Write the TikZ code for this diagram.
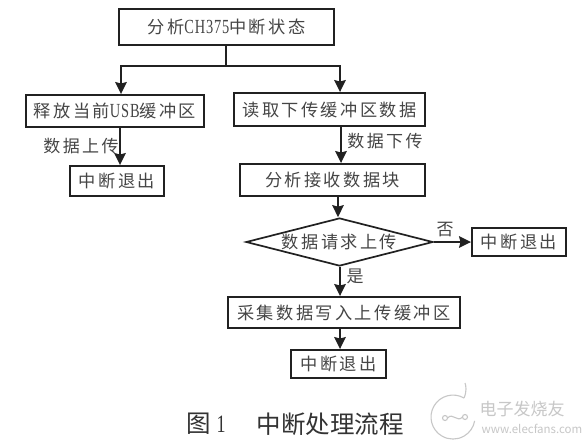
\documentclass[tikz,border=0pt]{standalone}
\usepackage{fontspec}
\usetikzlibrary{arrows.meta,shapes.geometric}
\setmainfont{Noto Sans CJK SC}
\newfontfamily\cjk{Noto Sans CJK SC}
\newfontfamily\cjkwide[LetterSpace=14]{Noto Sans CJK SC}
\newfontfamily\latn[FakeStretch=0.72,LetterSpace=4]{Liberation Serif}
\definecolor{ink}{gray}{0.13}
\definecolor{txt}{gray}{0.27}
\definecolor{wmgray}{gray}{0.78}
\tikzset{
  flowbox/.style={draw=ink,line width=1.9pt,fill=white,inner sep=0pt,text=txt,font=\fontsize{17.2}{19}\selectfont\cjkwide},
  decision/.style={diamond,aspect=3.9,draw=ink,line width=1.7pt,fill=white,inner sep=0pt,text=txt,font=\fontsize{17.2}{19}\selectfont\cjkwide},
  flowlabel/.style={inner sep=0pt,text=txt,font=\fontsize{17}{19}\selectfont\cjkwide},
  link/.style={draw=ink,line width=1.8pt},
  arrowlink/.style={link,-{Stealth[length=12pt,width=11.5pt,inset=1.5pt]}},
  captiontext/.style={inner sep=0pt,text=black!80,font=\fontsize{24.5}{26}\selectfont\cjk},
  marktext/.style={inner sep=0pt,text=wmgray},
  wmline/.style={draw=wmgray,line width=1.1pt}
}
\begin{document}
\begin{tikzpicture}[x=1pt,y=-1pt]
\useasboundingbox (0,0) rectangle (585,445);
\fill[white] (0,0) rectangle (585,445);
\node[flowbox,minimum width=215pt,minimum height=36pt] (top) at (226.5,27) {分析{\latn\fontsize{20}{19}\selectfont CH375}中断状态};
\node[flowbox,minimum width=178pt,minimum height=32pt] (rel) at (115,111) {释放当前{\latn\fontsize{20}{19}\selectfont USB}缓冲区};
\node[flowbox,minimum width=94pt,minimum height=30pt] (exa) at (117,181) {中断退出};
\node[flowbox,minimum width=191pt,minimum height=33pt] (read) at (329.5,109.5) {读取下传缓冲区数据};
\node[flowbox,minimum width=185pt,minimum height=32pt] (ana) at (332.5,180) {分析接收数据块};
\node[decision,minimum width=187pt,minimum height=48pt] (dec) at (339.5,242) {数据请求上传};
\node[flowbox,minimum width=94pt,minimum height=28pt] (exb) at (519,242) {中断退出};
\node[flowbox,minimum width=232pt,minimum height=31pt] (col) at (344,312.5) {采集数据写入上传缓冲区};
\node[flowbox,minimum width=95pt,minimum height=28pt] (exc) at (338.5,364) {中断退出};
\coordinate (split) at (226,66);
\coordinate (tl) at (121,66);
\coordinate (tr) at (340,66);
\draw[link] (top.south -| split) -- (split);
\draw[arrowlink] (split) -- (tl) -- (tl |- rel.north);
\draw[arrowlink] (split) -- (tr) -- (tr |- read.north);
\coordinate (la) at (120,0);
\coordinate (ra) at (341,0);
\coordinate (rb) at (338,0);
\coordinate (rc) at (340,0);
\draw[arrowlink] (la |- rel.south) -- (la |- exa.north);
\draw[arrowlink] (ra |- read.south) -- (ra |- ana.north);
\draw[arrowlink] (rb |- ana.south) -- (rb |- dec.north);
\draw[arrowlink] (rc |- dec.south) -- (rc |- col.north);
\draw[arrowlink] (rc |- col.south) -- (rc |- exc.north);
\draw[arrowlink] (dec.east) -- (exb.west);
\node[flowlabel] (l1) at (81,146) {数据上传};
\node[flowlabel] (l2) at (385,141) {数据下传};
\node[flowlabel] (l3) at (445,230) {否};
\node[flowlabel] (l4) at (355,276) {是};
\node[captiontext] (cap1) at (206,424) {图{\latn\fontsize{25}{26}\selectfont\ 1}};
\node[captiontext] (cap2) at (330,424) {中断处理流程};
\draw[wmline] (464,398) arc (-60:-350:22);
\draw[wmline] (464,398) .. controls (467,391) and (466,386) .. (465,383);
\draw[wmline] (445,418) circle (2.5) (465,417) circle (2.5);
\draw[wmline] (447.5,418) .. controls (453,412) and (457,423) .. (462.5,417);
\node[marktext,font=\fontsize{17}{19}\selectfont\cjk] (m1) at (522,409) {电子发烧友};
\node[marktext,font=\fontsize{11.5}{13}\selectfont\cjk] (m2) at (532,429) {www.elecfans.com};
\end{tikzpicture}
\end{document}
